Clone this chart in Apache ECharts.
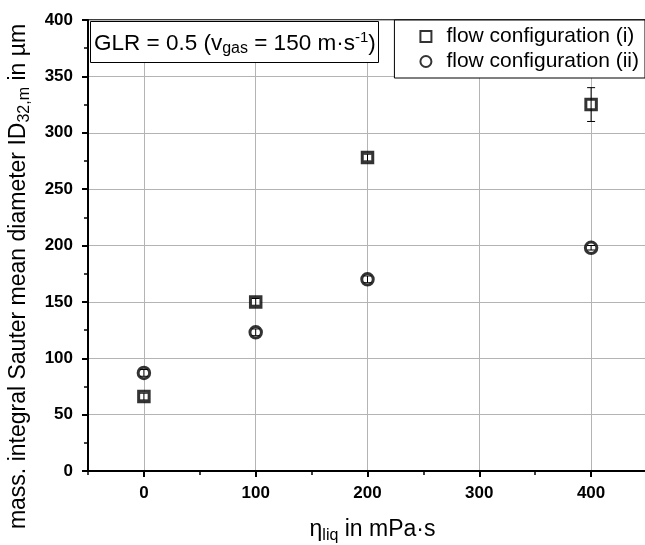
<!DOCTYPE html>
<html><head><meta charset="utf-8">
<script src="https://cdn.jsdelivr.net/npm/echarts@6/dist/echarts.min.js"></script>
<style>html,body{margin:0;padding:0;background:#fff}#c{width:645px;height:545px}</style>
</head><body><div id="c"></div>
<script>
const xTicks = [0, 100, 200, 300, 400];
const xMinorTicks = [-50, 50, 150, 250, 350, 450];
const xI = [0, 100, 200, 400];
const yI = [66, 150, 278, 325];
const errI = [3, 3, 3, 15];
const xII = [0, 100, 200, 400];
const yII = [87, 123, 170, 198];
const errII = [3, 3, 3, 2];
const nameI = 'flow configuration (i)';
const nameII = 'flow configuration (ii)';

const chart = echarts.init(document.getElementById('c'), null, {renderer: 'canvas'});
const FONT = '"Liberation Sans", Arial, sans-serif';

function errSeries(xs, ys, es) {
  return {
    type: 'custom', silent: true, z: 5,
    data: xs.map((x, i) => [x, ys[i] - es[i], ys[i] + es[i]]),
    renderItem: function (params, api) {
      const lo = api.coord([api.value(0), api.value(1)]);
      const hi = api.coord([api.value(0), api.value(2)]);
      const w = 4;
      const st = {stroke: '#000', lineWidth: 1};
      return {type: 'group', children: [
        {type: 'line', shape: {x1: lo[0], y1: lo[1], x2: hi[0], y2: hi[1]}, style: st},
        {type: 'line', shape: {x1: lo[0]-w, y1: lo[1], x2: lo[0]+w, y2: lo[1]}, style: st},
        {type: 'line', shape: {x1: hi[0]-w, y1: hi[1], x2: hi[0]+w, y2: hi[1]}, style: st}
      ]};
    }
  };
}

chart.setOption({
  animation: false,
  grid: {left: 88, right: -2, top: 20, bottom: 74, show: true, borderColor: '#000', borderWidth: 1.5, containLabel: false, outerBoundsMode: 'none'},
  title: {
    text: '{n|GLR = 0.5 (v}{s|gas}{n| = 150 m·s}{p|-1}{n|)}',
    left: 90, top: 22,
    borderColor: '#000', borderWidth: 1, padding: [8, 3, 6, 4],
    backgroundColor: '#fff',
    textStyle: {
      fontWeight: 'normal',
      rich: {
        n: {fontFamily: FONT, fontSize: 22.5, fontWeight: 'normal', color: '#000', lineHeight: 27},
        s: {fontFamily: FONT, fontSize: 16, fontWeight: 'normal', color: '#000', verticalAlign: 'bottom', lineHeight: 18, padding: [12, 0, 0, 0]},
        p: {fontFamily: FONT, fontSize: 15, fontWeight: 'normal', color: '#000', verticalAlign: 'top', lineHeight: 16, padding: [0, 0, 11, 0]}
      }
    }
  },
  legend: {
    right: 0, top: 20, orient: 'vertical',
    data: [nameI, nameII],
    borderColor: '#000', borderWidth: 1, padding: [6, 6, 6, 25],
    backgroundColor: '#fff',
    itemGap: 4, itemWidth: 11, itemHeight: 11,
    textStyle: {fontFamily: FONT, fontSize: 21, color: '#000', padding: [0, 0, 0, 10]}
  },
  xAxis: [{
    type: 'value', min: -50, max: 450, interval: 100,
    name: '{n|η}{s|liq}{n| in mPa·s}', nameLocation: 'middle', nameGap: 44,
    nameTextStyle: {
      padding: [0, 0, 0, 10],
      rich: {
        n: {fontFamily: FONT, fontSize: 23, color: '#000'},
        s: {fontFamily: FONT, fontSize: 16, color: '#000', verticalAlign: 'bottom', padding: [13, 0, 0, 0]}
      }
    },
    axisLine: {show: true, onZero: false, lineStyle: {color: '#000', width: 2}},
    axisTick: {show: true, inside: false, length: 6, lineStyle: {color: '#000', width: 2}, customValues: xTicks},
    axisLabel: {fontFamily: FONT, fontSize: 17, fontWeight: 'bold', color: '#000', margin: 14, customValues: xTicks},
    splitLine: {show: true, lineStyle: {color: '#b4b4b4', width: 1}}
  }, {
    type: 'value', min: -50, max: 450, interval: 100, position: 'bottom',
    axisLine: {show: false},
    axisTick: {show: true, inside: false, length: 4, lineStyle: {color: '#000', width: 1.5}, customValues: xMinorTicks},
    axisLabel: {show: false},
    splitLine: {show: false}
  }],
  yAxis: {
    type: 'value', min: 0, max: 400, interval: 50,
    name: '{n|mass. integral Sauter mean diameter ID}{s|32,m}{n| in µm}', nameLocation: 'middle', nameGap: 55,
    nameTextStyle: {
      padding: [0, 62, 0, 0],
      rich: {
        n: {fontFamily: FONT, fontSize: 23, color: '#000'},
        s: {fontFamily: FONT, fontSize: 16, color: '#000', verticalAlign: 'bottom', padding: [13, 0, 0, 0]}
      }
    },
    axisLine: {show: true, onZero: false, lineStyle: {color: '#000', width: 2}},
    axisTick: {show: true, inside: false, length: 6, lineStyle: {color: '#000', width: 2}},
    minorTick: {show: true, splitNumber: 2, length: 4, lineStyle: {color: '#000', width: 1.5}},
    axisLabel: {fontFamily: FONT, fontSize: 17, fontWeight: 'bold', color: '#000', margin: 15},
    splitLine: {show: true, lineStyle: {color: '#b4b4b4', width: 1}}
  },
  series: [
    {
      name: nameI, type: 'scatter', symbol: 'rect', symbolSize: 10.5, z: 4,
      itemStyle: {color: '#fff', borderColor: '#000', borderWidth: 3},
      data: xI.map((x, i) => [x, yI[i]])
    },
    {
      name: nameII, type: 'scatter', symbol: 'circle', symbolSize: 11.5, z: 4,
      itemStyle: {color: '#fff', borderColor: '#000', borderWidth: 3},
      data: xII.map((x, i) => [x, yII[i]])
    },
    errSeries(xI, yI, errI),
    errSeries(xII, yII, errII)
  ]
});
</script></body></html>
